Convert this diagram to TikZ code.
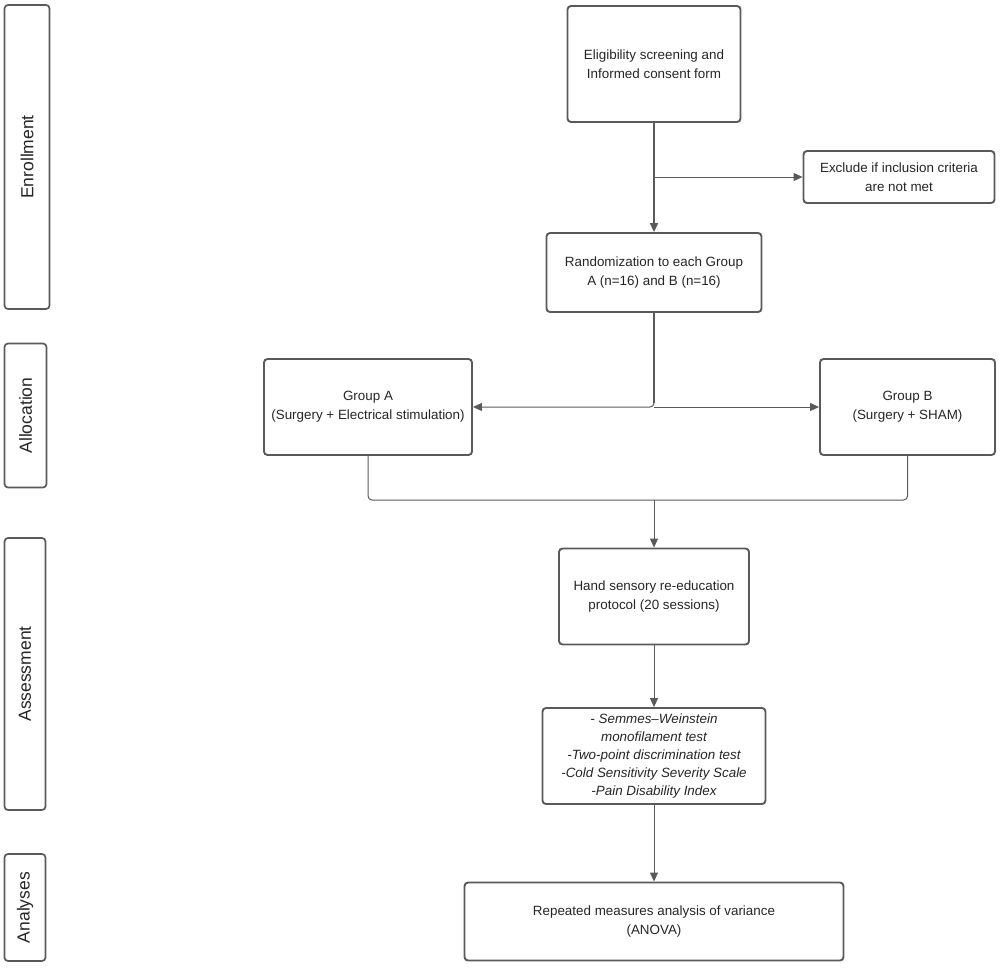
\documentclass[tikz,border=0pt]{standalone}
\usepackage{fontspec}
\setmainfont{Liberation Sans}
\usetikzlibrary{arrows.meta,calc}
\definecolor{lc}{HTML}{5A5A5A}
\definecolor{tc}{HTML}{262626}
\tikzset{
  box/.style={draw=lc, line width=1.9pt, rounded corners=3.5pt, fill=white, align=center,
    text=tc, font=\fontsize{13.4}{19}\selectfont, inner sep=2pt},
  band/.style={draw=lc, line width=1.7pt, rounded corners=3.5pt, fill=white},
  bandlabel/.style={rotate=90, text=tc, font=\fontsize{17.5}{20}\selectfont},
  conn/.style={draw=lc, line width=1pt, -{Triangle[length=9pt,width=8pt]}},
  thickconn/.style={draw=lc, line width=2pt, -{Triangle[length=9pt,width=8pt]}},
  plain/.style={draw=lc, line width=1pt, rounded corners=4pt},
}
\begin{document}
\begin{tikzpicture}[x=1pt,y=-1pt]
\useasboundingbox (0,0) rectangle (1000,967);
% bands
\node[band, minimum width=45pt, minimum height=304pt] (enr) at (27,157) {};
\node[bandlabel] (enrl) at (enr.center) {Enrollment};
\node[band, minimum width=42pt, minimum height=144pt] (alo) at (25.5,415.5) {};
\node[bandlabel] (alol) at (alo.center) {Allocation};
\node[band, minimum width=41pt, minimum height=272pt] (ass) at (25,674) {};
\node[bandlabel] (assl) at (ass.center) {Assessment};
\node[band, minimum width=41pt, minimum height=107pt] (ana) at (25,907.5) {};
\node[bandlabel] (anal) at (ana.center) {Analyses};
% boxes
\node[box, minimum width=173pt, minimum height=116pt] (elig) at (654,64)
  {Eligibility screening and\\Informed consent form};
\node[box, minimum width=191pt, minimum height=52pt] (excl) at (899,177)
  {Exclude if inclusion criteria\\are not met};
\node[box, minimum width=215pt, minimum height=79pt] (rand) at (654,272.5)
  {Randomization to each Group\\A (n=16) and B (n=16)};
\node[box, minimum width=208pt, minimum height=96pt] (ga) at (368,407)
  {Group A\\(Surgery + Electrical stimulation)};
\node[box, minimum width=175pt, minimum height=96pt] (gb) at (907.5,407)
  {Group B\\(Surgery + SHAM)};
\node[box, minimum width=190pt, minimum height=96pt] (hand) at (654,596.5)
  {Hand sensory re-education\\protocol (20 sessions)};
\node[box, minimum width=223pt, minimum height=96pt, font=\fontsize{13.4}{19}\selectfont\itshape] (semm) at (654,756)
  {\raisebox{-3pt}{\begin{tabular}{@{}c@{}}- Semmes–Weinstein\\[-1pt]monofilament test\\[-1pt]-Two-point discrimination test\\[-1pt]-Cold Sensitivity Severity Scale\\[-1pt]-Pain Disability Index\end{tabular}}};
\node[box, minimum width=379pt, minimum height=78pt] (anova) at (654,921.5)
  {Repeated measures analysis of variance\\(ANOVA)};
% connectors
\draw[thickconn] (elig.south) -- (rand.north);
\coordinate (br) at (elig.south |- excl.west);
\draw[conn] (br) -- (excl.west);
\coordinate (split) at (rand.south |- gb.west);
\draw[conn, rounded corners=4pt] (rand.south) |- (ga.east);
\draw[draw=lc, line width=1.8pt] (rand.south) -- ($(split)+(0,-4)$);
\draw[conn] (split) -- (gb.west);
\coordinate (merge) at (654,500);
\draw[plain] (ga.south) |- (merge);
\draw[plain] (gb.south) |- (merge);
\draw[conn] (merge) -- (hand.north);
\draw[conn] (hand.south) -- (semm.north);
\draw[conn] (semm.south) -- (anova.north);
\end{tikzpicture}
\end{document}
